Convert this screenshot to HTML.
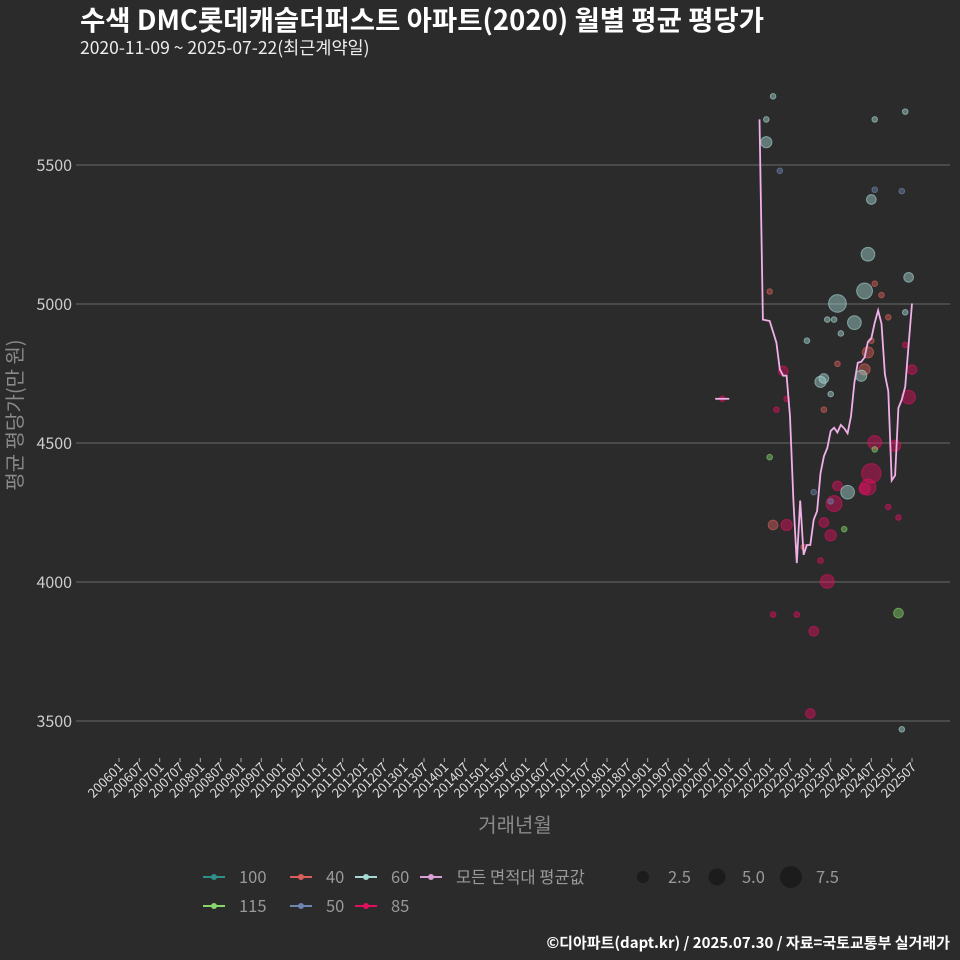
<!DOCTYPE html>
<html><head><meta charset="utf-8">
<style>
body{margin:0;background:#2b2b2b;}
svg{display:block;font-family:"Noto Sans CJK KR","Liberation Sans",sans-serif;}
</style></head>
<body>
<svg id="chart" width="960" height="960" viewBox="0 0 960 960">
<rect width="960" height="960" fill="#2b2b2b"/>
<text x="80" y="30" fill="#ffffff" font-size="27.5" font-weight="bold">수색 DMC롯데캐슬더퍼스트 아파트(2020) 월별 평균 평당가</text>
<text x="80" y="54" fill="#eeeeee" font-size="17.5">2020-11-09 ~ 2025-07-22(최근계약일)</text>
<g id="grid"></g>
<g id="yticks"></g>
<g id="xticks"></g>
<g id="bubbles"></g>
<g id="line"></g>
<text transform="translate(22,415) rotate(-90)" text-anchor="middle" fill="#8a8a8a" font-size="20">평균 평당가(만 원)</text>
<text x="515" y="832" text-anchor="middle" fill="#8a8a8a" font-size="20">거래년월</text>
<g id="legend" font-size="16.5" fill="#999999"></g>
<text x="950" y="948" text-anchor="end" fill="#ffffff" font-size="15" font-weight="bold">©디아파트(dapt.kr) / 2025.07.30 / 자료=국토교통부 실거래가</text>
</svg>
<script>
const yTicks=[3500,4000,4500,5000,5500];
const xTickLabels=[];
for(let y=2006;y<=2025;y++){xTickLabels.push(y+"01");xTickLabels.push(y+"07");}
const lineMonths=[189,190,192,194,195,196,197,198,199,200,201,202,203,204,205,206,207,208,209,210,211,212,213,214,215,216,217,218,219,220,221,222,223,224,225,226,227,228,229,230,231,232,233,234];
const lineValues=[5664,4944,4939,4861,4765,4742,4742,4596,4293,4068,4293,4098,4133,4133,4224,4255,4391,4452,4482,4543,4555,4538,4565,4553,4535,4596,4717,4789,4792,4808,4864,4876,4932,4977,4929,4747,4686,4365,4383,4626,4656,4702,4853,5002];
const bubMonths=[193,191,191,195,192,196,197,194,192,193,197,202,193,200,205,204,209,207,208,210,211,212,215,210,214,205,203,207,208,210,208,212,209,211,212,213,217,220,221,222,223,223,223,225,221,220,219,222,223,223,222,221,220,227,230,229,227,232,232,233,234,233,231,232,230,231,178];
const bubValues=[5747,5664,5582,5479,5045,4759,4659,4620,4449,4205,4205,4126,3883,3883,3823,3527,4002,4077,4214,4168,4282,4346,4323,4290,4190,4323,4868,4720,4732,4676,4620,4785,4944,4944,5002,4894,4933,5047,5179,5376,5411,5664,5073,5032,4826,4765,4742,4868,4502,4477,4391,4341,4335,4270,4232,4490,4952,4970,4853,4665,4764,5096,5406,5692,3888,3470,4659];
const bubCounts=[1,1,4,1,1,3,1,1,1,3,4,1,1,1,3,3,6,1,3,4,8,3,6,1,1,1,1,4,3,1,1,1,1,1,10,1,6,8,6,3,1,1,1,1,4,4,4,1,6,1,12,8,4,1,1,4,1,1,1,6,3,3,1,1,3,1,1];
const bubSeries=["60","60","60","50","40","85","85","85","115","40","85","40","85","85","85","85","85","85","85","85","85","85","60","50","115","50","60","60","60","60","40","40","60","60","60","60","60","60","60","60","50","60","40","40","40","40","60","40","85","115","85","85","85","85","85","85","40","60","85","85","85","60","50","60","115","60","85"];
const colors={"100":"#2f8f8a","40":"#d9605a","60":"#a6d8d4","115":"#86d66a","50":"#6f86b0","85":"#e0105f"};
const NS="http://www.w3.org/2000/svg";
function X(m){return 119+m*(793/234);}
function Y(v){return 165+(5500-v)*0.278;}
function mk(tag,attrs,parent){const e=document.createElementNS(NS,tag);for(const k in attrs)e.setAttribute(k,attrs[k]);parent.appendChild(e);return e;}
const grid=document.getElementById('grid'),yt=document.getElementById('yticks'),xt=document.getElementById('xticks');
yTicks.forEach(v=>{
 const l=mk('line',{x1:76,x2:950,y1:Y(v),y2:Y(v),stroke:'#6a6a6a','stroke-width':1},grid);
 
 
 const t=mk('text',{x:72,y:Y(v)+6,'text-anchor':'end',fill:'#cccccc','font-size':16},yt);
 
 
 t.textContent=v;
});
xTickLabels.forEach((lab,i)=>{
 const x=X(i*6);
 const tk=mk('line',{x1:x,x2:x,y1:758,y2:762,stroke:'#aaaaaa'},xt);
 
 
 const t=mk('text',{transform:`translate(${x+5},${768}) rotate(-45)`,'text-anchor':'end',fill:'#dddddd','font-size':13},xt);
 
 
 t.textContent=lab;
});
const bg=document.getElementById('bubbles');
bubMonths.forEach((m,i)=>{
 const c=mk('circle',{cx:X(m),cy:Y(bubValues[i]),r:2.8*Math.sqrt(bubCounts[i]),fill:colors[bubSeries[i]],'fill-opacity':0.45,stroke:colors[bubSeries[i]],'stroke-opacity':0.6},bg);
 
 
});
const lg=document.getElementById('line');
const pts=lineMonths.map((m,i)=>X(m).toFixed(1)+','+Y(lineValues[i]).toFixed(1)).join(' ');
const pl=mk('polyline',{points:pts,fill:'none',stroke:'#f0b0e8','stroke-width':1.8},lg);


const seg=mk('line',{x1:X(178)-7,x2:X(178)+7,y1:Y(4659),y2:Y(4659),stroke:'#f0b0e8','stroke-width':1.8},lg);


const leg=document.getElementById('legend');
const items=[["100",colors["100"],203,877],["40",colors["40"],290,877],["60",colors["60"],355,877],["모든 면적대 평균값","#d9a0d8",420,877],["115",colors["115"],203,906],["50",colors["50"],290,906],["85",colors["85"],355,906]];
items.forEach(it=>{
 const g=mk('g',{},leg);
 
 
 mk('line',{x1:it[2],x2:it[2]+22,y1:it[3],y2:it[3],stroke:it[1],'stroke-width':2},g);
 mk('circle',{cx:it[2]+11,cy:it[3],r:3,fill:it[1]},g);
 const t=mk('text',{x:it[2]+36,y:it[3]+6},g);t.textContent=it[0];
});
[["2.5",643,6],["5.0",717,8.5],["7.5",791,11]].forEach(s=>{
 const g=mk('g',{},leg);
 
 
 mk('circle',{cx:s[1],cy:877,r:s[2],fill:'#1c1c1c'},g);
 const t=mk('text',{x:s[1]+25,y:883},g);t.textContent=s[0];
});
</script>
</body></html>
